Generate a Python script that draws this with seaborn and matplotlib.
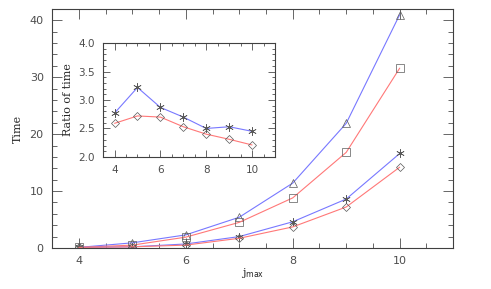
import numpy as np
import pandas as pd
import seaborn as sns
import matplotlib.pyplot as plt
from matplotlib.ticker import MultipleLocator

# main panel: time vs j_max
jmax = [4, 5, 6, 7, 8, 9, 10]
time_tri = [0.1, 0.9, 2.3, 5.4, 11.4, 21.9, 41.0]
time_sq = [0.1, 0.5, 1.9, 4.5, 8.8, 16.8, 31.6]
time_star = [0.1, 0.2, 0.7, 2.0, 4.6, 8.6, 16.6]
time_dia = [0.1, 0.2, 0.5, 1.7, 3.7, 7.2, 14.2]

# inset: ratio of time
ratio_blue = [2.77, 3.22, 2.87, 2.70, 2.50, 2.53, 2.45]
ratio_red = [2.59, 2.72, 2.70, 2.53, 2.40, 2.31, 2.21]

blue = "#7878ff"
red = "#ff7878"
mk = "0.35"

sns.set_style("ticks")
plt.rcParams["font.family"] = ["DejaVu Sans"]
plt.rcParams["axes.edgecolor"] = "0.25"
plt.rcParams["xtick.color"] = "0.3"
plt.rcParams["ytick.color"] = "0.3"
plt.rcParams["text.color"] = "0.3"

fig = plt.figure(figsize=(4.91, 2.89), dpi=100)
ax = fig.add_axes([0.106, 0.142, 0.817, 0.827])

series = [
    (time_tri, blue, "^", 6),
    (time_sq, red, "s", 6),
    (time_star, blue, (6, 2, 0), 6),
    (time_dia, red, "D", 4.5),
]
for vals, col, m, ms in series:
    df = pd.DataFrame({"j": jmax, "t": vals})
    sns.lineplot(data=df, x="j", y="t", ax=ax, color=col, lw=0.8,
                 marker=m, markersize=ms, markerfacecolor="none",
                 markeredgecolor=mk, markeredgewidth=0.5)


def style(a, ymaj, ymin, fs):
    a.xaxis.set_major_locator(MultipleLocator(2))
    a.xaxis.set_minor_locator(MultipleLocator(0.5))
    a.yaxis.set_major_locator(MultipleLocator(ymaj))
    a.yaxis.set_minor_locator(MultipleLocator(ymin))
    a.tick_params(which="both", direction="in", top=True, right=True,
                  labelsize=fs, width=0.6, pad=6)
    a.tick_params(which="major", length=7)
    a.tick_params(which="minor", length=3.5)
    for s in a.spines.values():
        s.set_linewidth(0.8)


style(ax, 10, 2, 8)
ax.set_xlim(3.5, 11)
ax.set_ylim(0, 42)
ax.set_xlabel(r"j$_{\rm max}$", fontsize=8, family="DejaVu Serif", labelpad=0)
ax.set_ylabel("Time", fontsize=8, family="DejaVu Serif", labelpad=5)

ins = fig.add_axes([0.210, 0.457, 0.350, 0.394])
for vals, col, m, ms in [(ratio_blue, blue, (6, 2, 0), 6), (ratio_red, red, "D", 4.5)]:
    df = pd.DataFrame({"j": jmax, "r": vals})
    sns.lineplot(data=df, x="j", y="r", ax=ins, color=col, lw=0.8,
                 marker=m, markersize=ms, markerfacecolor="none",
                 markeredgecolor=mk, markeredgewidth=0.5)
style(ins, 0.5, 0.1, 7.5)
ins.tick_params(which="major", length=5)
ins.tick_params(which="minor", length=2.5)
ins.set_xlim(3.5, 11)
ins.set_ylim(2.0, 4.0)
ins.yaxis.set_major_formatter(plt.FormatStrFormatter("%.1f"))
ins.set_xlabel("")
ins.set_ylabel("Ratio of time", fontsize=8, family="DejaVu Serif", labelpad=4)

fig.savefig("out.png", dpi=100)
